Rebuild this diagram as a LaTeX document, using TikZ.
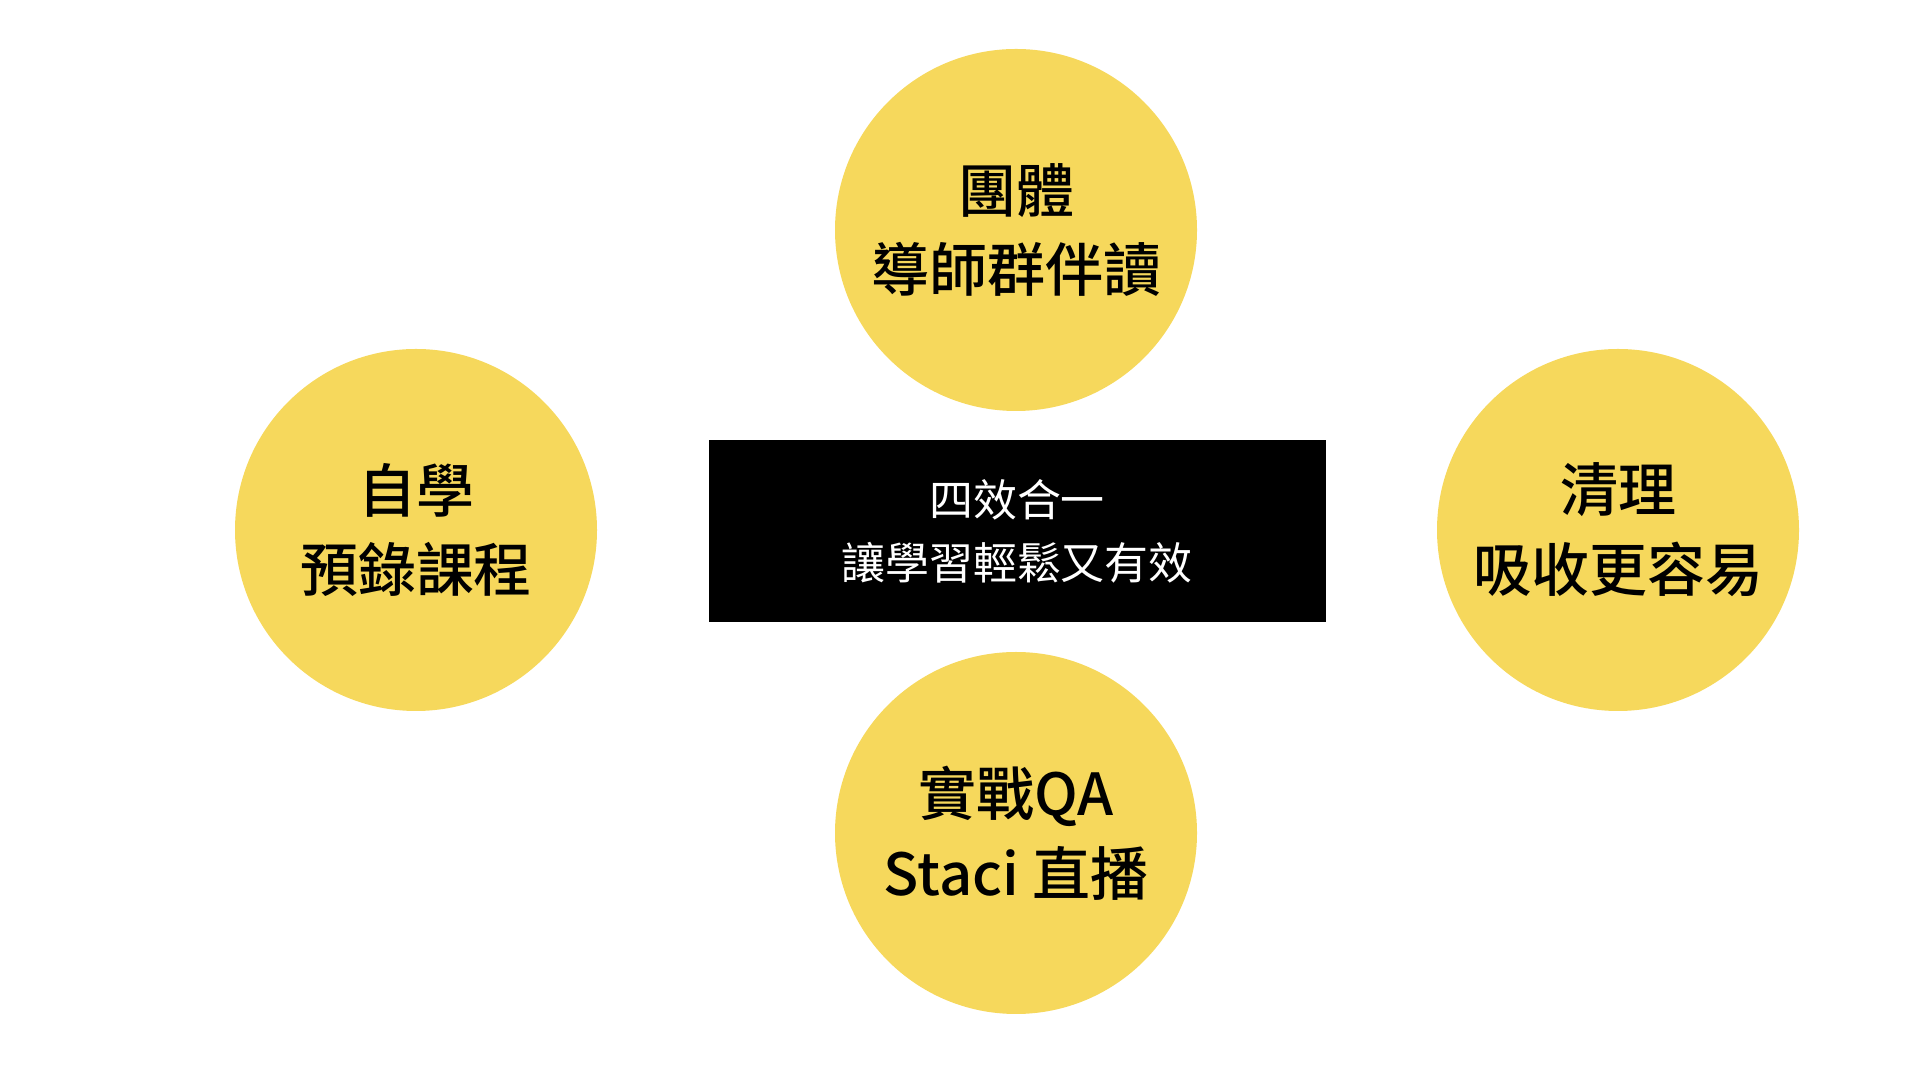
\documentclass[tikz,border=0pt]{standalone}
\usepackage{fontspec}
\setmainfont{Noto Sans CJK TC}
\newfontfamily\medfont{Noto Sans CJK TC Medium}
\usetikzlibrary{positioning}
\definecolor{sunny}{HTML}{F6D85C}

\begin{document}
\begin{tikzpicture}[topic/.style={circle, fill=sunny, minimum size=36.2mm, inner sep=0pt, align=center, font=\medfont\fontsize{16.5}{22.7}\selectfont},
                    hub/.style={rectangle, fill=black, text=white, minimum width=61.7mm, minimum height=18.2mm, align=center, font=\fontsize{12.5}{18}\selectfont}]
            \useasboundingbox (0, 0) rectangle (19.2, 10.8);
            \node[hub] (center) at (10.17, 5.49) {四效合一\\讓學習輕鬆又有效};
            \foreach \name/\x/\y/\txt in {group/10.16/8.5/{團體\\導師群伴讀}, self/4.16/5.5/{自學\\預錄課程}, clear/16.18/5.5/{清理\\吸收更容易}, live/10.16/2.47/{實戰QA\\Staci 直播}}
            {
                \node[topic] (\name) at (\x, \y) {\txt};
            }
        \end{tikzpicture}
\end{document}
